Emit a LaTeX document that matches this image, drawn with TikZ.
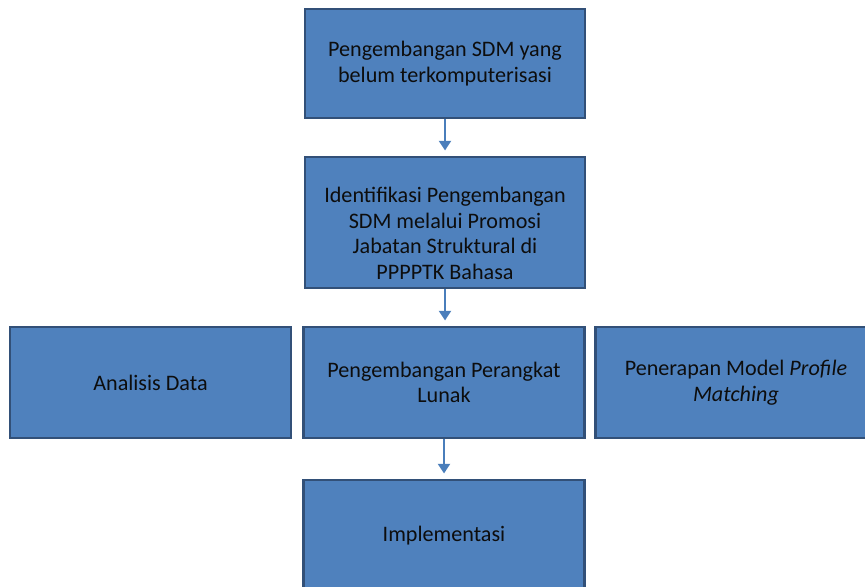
\documentclass[tikz,border=0pt]{standalone}
\usepackage{fontspec}
\setmainfont{Carlito}
\usetikzlibrary{arrows.meta}

\definecolor{boxblue}{RGB}{79,129,189}
\definecolor{boxline}{RGB}{50,80,120}
\definecolor{arrowblue}{RGB}{74,126,187}

\tikzset{
    box/.style={draw=boxline, fill=boxblue, line width=1.5pt, align=center,
        inner sep=0pt, font=\fontsize{12.6}{14.6}\selectfont, text=black!95},
    arr/.style={draw=arrowblue, line width=1pt, shorten >=3pt,
        -{Triangle[width=7pt,length=5.5pt]}}
}

\begin{document}
\begin{tikzpicture}[x=0.02cm, y=-0.02cm]
        \useasboundingbox (0,0) rectangle (865,587);
        \clip (0,0) rectangle (865,587);

        % Boxes in the middle column
        \node[box, minimum width=5.6cm, minimum height=2.18cm] (sdm) at (445,63.5)
            {Pengembangan SDM yang\\ belum terkomputerisasi};
        \node[box, minimum width=5.6cm, minimum height=2.62cm] (identifikasi) at (445,222.5)
            {\rule{0pt}{21pt}Identifikasi Pengembangan\\ SDM melalui Promosi\\ Jabatan Struktural di\\ PPPPTK Bahasa};

        % Row of three boxes
        \node[box, minimum width=5.62cm, minimum height=2.22cm] (analisis) at (150.5,382.5)
            {Analisis Data};
        \node[box, minimum width=5.62cm, minimum height=2.22cm] (perangkat) at (444,382.5)
            {Pengembangan Perangkat\\ Lunak};
        \node[box, minimum width=5.62cm, minimum height=2.22cm] (penerapan) at (736,382.5)
            {Penerapan Model \textit{Profile}\\ \textit{Matching}};

        % Last box, cut at the bottom
        \node[box, minimum width=5.62cm, minimum height=2.22cm] (implementasi) at (444,535.5)
            {Implementasi};

        % Arrows down the middle
        \draw[arr] (sdm.south) -- (identifikasi.north);
        \draw[arr] (identifikasi.south) -- (identifikasi.south |- perangkat.north);
        \draw[arr] (perangkat.south) -- (perangkat.south |- implementasi.north);
\end{tikzpicture}
\end{document}
